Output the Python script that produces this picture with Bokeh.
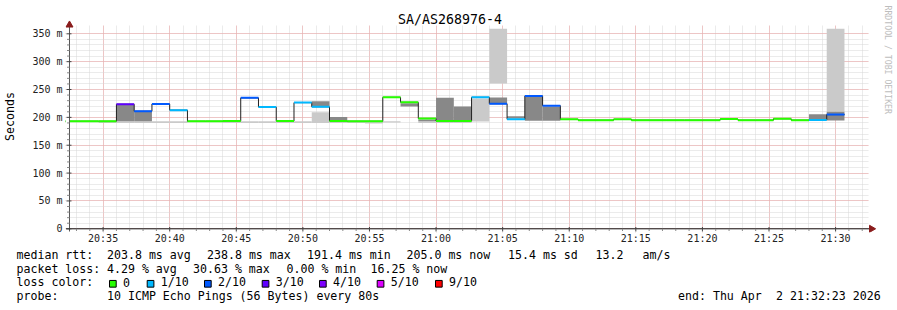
import math
from bokeh.plotting import figure
from bokeh.models import Range1d, FixedTicker, ColumnDataSource
from bokeh.layouts import column, row
from bokeh.embed import file_html
from bokeh.resources import INLINE
from bokeh.core.properties import value

MONO = "DejaVu Sans Mono"

# ---------------- data ----------------
title_text = "SA/AS268976-4"
y_axis_label = "Seconds"
watermark = "RRDTOOL / TOBI OETIKER"

# x axis: minutes after 20:00
x_tick_minutes = [35, 40, 45, 50, 55, 60, 65, 70, 75, 80, 85, 90]
x_tick_labels = ["20:35", "20:40", "20:45", "20:50", "20:55", "21:00",
                 "21:05", "21:10", "21:15", "21:20", "21:25", "21:30"]
x_minor_minutes = list(range(33, 93))
y_tick_values = [0, 50, 100, 150, 200, 250, 300, 350]
y_tick_labels = ["0", "50 m", "100 m", "150 m", "200 m", "250 m", "300 m", "350 m"]
y_minor_values = list(range(0, 351, 10))

first_step_min = 32.0      # 20:32:00
probe_step_s = 80

# median rtt per 80 s step (ms)
median_ms = [193, 193, 193,
             223.5, 211, 224, 213,
             193, 193, 193.5,
             235, 218.5, 193.5,
             226.5, 219, 193.5,
             193, 193,
             236, 227, 198,
             193.5, 193.5,
             236, 224.5, 196.5,
             238.5, 221,
             196.5, 195, 195, 196.5, 195, 195, 195, 195, 195, 197, 195, 195, 197.5, 195,
             195.5, 205]
# lost pings out of 10 per step
loss_tenths = [0, 0, 0,
               3, 2, 2, 1,
               0, 0, 0,
               2, 1, 0,
               1, 1, 0,
               0, 0,
               0, 0, 0,
               0, 0,
               1, 2, 1,
               2, 2,
               0, 0, 0, 0, 0, 0, 0, 0, 0, 0, 0, 0, 0, 0,
               1, 2]
# smoke (spread of the pings): outer light band and inner dark band (ms)
smoke_light_lo = [None, None, 190, 190, 190, 190, 190, None, None, 190, 190, 190, 190, 190,
                  190, 190, 190, 189, 191, None, 190, 190, 190, 192.5, 261, None, None, None,
                  None, None, None, None, None, None, None, None, None, None, None, None, None, None,
                  None, 210]
smoke_light_hi = [None, None, 193, 193, 193, 193, 193, None, None, 193, 193, 193, 193, 193,
                  209, 193, 193, 193, 193, None, 193, 193.5, 193.5, 234, 359, None, None, None,
                  None, None, None, None, None, None, None, None, None, None, None, None, None, None,
                  None, 359]
smoke_dark_lo = [None, None, None, 193, 193, None, None, None, None, None, None, None, None, None,
                 220.5, 194, None, None, None, 219.5, 193, 193.5, 193.5, None, 226, 198.5, 194, 194,
                 None, None, None, None, None, None, None, None, None, None, None, None, None, None,
                 197, 194.5]
smoke_dark_hi = [None, None, None, 222, 209.5, None, None, None, None, None, None, None, None, None,
                 229, 200.5, None, None, None, 225.5, 196, 235, 219.5, None, 235.5, 202, 237, 219,
                 None, None, None, None, None, None, None, None, None, None, None, None, None, None,
                 205.5, 210]

loss_levels = [0, 1, 2, 3, 4, 5, 9]
loss_labels = ["0", "1/10", "2/10", "3/10", "4/10", "5/10", "9/10"]
loss_colors = ["#26ff00", "#00b8ff", "#0059ff", "#5e00ff", "#7e00ff", "#dd00ff", "#ff0000"]

rtt_avg, rtt_max, rtt_min, rtt_now, rtt_sd, rtt_amps = 203.8, 238.8, 191.4, 205.0, 15.4, 13.2
loss_avg, loss_max, loss_min, loss_now = 4.29, 30.63, 0.00, 16.25
probe_text = "10 ICMP Echo Pings (56 Bytes) every 80s"
end_date = "Thu Apr  2 21:32:23 2026"

# ---------------- layout / style ----------------
W, MAIN_H = 897, 246
BOTTOM_H = 310 - MAIN_H
FRAME_L, FRAME_B = 63, 232            # frame: px 63..897 x 0..232
AX_X, AX_Y = 67.0, 228.3             # pixel position of the drawn axes
SX = 13.35                            # px per minute
SY = 195.0 / 350.0                    # px per ms
x_lo = 32.476                         # left end of the plotting area (20:32:28)
x_hi = x_lo + (868 - AX_X) / SX       # right end of the plotting area


def xd(px):
    return x_lo + (px - AX_X) / SX


def yd(py):
    return (AX_Y - py) / SY


x_start, x_end = xd(FRAME_L), xd(W)
y_start, y_end = yd(FRAME_B), yd(0)

grid_minor = "#d6d6d6"
grid_major = "#efa0a0"
arrow_col = "#8a1c1c"
smoke_light_col = "#cacaca"
smoke_dark_col = "#888888"

step_min = probe_step_s / 60.0
n = len(median_ms)
starts = [first_step_min + i * step_min for i in range(n)]
ends = [s + step_min for s in starts]


def color_for(loss):
    c = loss_colors[0]
    for lv, col in zip(loss_levels, loss_colors):
        if loss >= lv:
            c = col
    return c


p = figure(width=W, height=MAIN_H, x_range=Range1d(x_start, x_end), y_range=Range1d(y_start, y_end),
           output_backend="svg", toolbar_location=None, title=None,
           min_border_left=FRAME_L, min_border_right=0, min_border_top=0,
           min_border_bottom=MAIN_H - FRAME_B,
           background_fill_color="white", border_fill_color="white")
p.outline_line_color = None

xt = FixedTicker(ticks=x_tick_minutes, minor_ticks=x_minor_minutes)
yt = FixedTicker(ticks=y_tick_values, minor_ticks=y_minor_values)
p.xaxis.ticker = xt
p.yaxis.ticker = yt
p.xgrid.ticker = xt
p.ygrid.ticker = yt
p.xaxis.major_label_overrides = {k: v for k, v in zip(x_tick_minutes, x_tick_labels)}
p.yaxis.major_label_overrides = {k: v for k, v in zip(y_tick_values, y_tick_labels)}

for g in (p.xgrid, p.ygrid):
    g.grid_line_color = grid_major
    g.grid_line_dash = "1 1"
    g.grid_line_width = 1
    g.minor_grid_line_color = grid_minor
    g.minor_grid_line_dash = "1 1"
    g.minor_grid_line_width = 1

# the library axes supply the labels; their lines/ticks are drawn at the axis position below
p.axis.axis_line_color = None
p.axis.major_tick_line_color = None
p.axis.minor_tick_line_color = None
p.axis.major_tick_in = 0
p.axis.major_tick_out = 0
p.axis.minor_tick_in = 0
p.axis.minor_tick_out = 0
p.axis.major_label_text_font = MONO
p.axis.major_label_text_font_size = "10px"
p.axis.major_label_text_color = "#222222"
p.xaxis.major_label_standoff = 0
p.yaxis.major_label_standoff = FRAME_L - 60
p.yaxis.axis_label = y_axis_label
p.yaxis.axis_label_text_font = MONO
p.yaxis.axis_label_text_font_size = "11.6px"
p.yaxis.axis_label_text_font_style = "normal"
p.yaxis.axis_label_text_color = "#000000"
p.yaxis.axis_label_standoff = 12

# smoke
li = [i for i in range(n) if smoke_light_lo[i] is not None]
p.quad(left=[starts[i] for i in li], right=[ends[i] for i in li],
       bottom=[smoke_light_lo[i] for i in li], top=[smoke_light_hi[i] for i in li],
       fill_color=smoke_light_col, line_color=None)
di = [i for i in range(n) if smoke_dark_lo[i] is not None]
p.quad(left=[starts[i] for i in di], right=[ends[i] for i in di],
       bottom=[smoke_dark_lo[i] for i in di], top=[smoke_dark_hi[i] for i in di],
       fill_color=smoke_dark_col, line_color=None)

# median step line and loss-coloured median
p.step(x=starts + [ends[-1]], y=median_ms + [median_ms[-1]], mode="after",
       line_color="#202020", line_width=1)
src = ColumnDataSource(dict(x0=starts, x1=ends, y=median_ms,
                            c=[color_for(l) for l in loss_tenths]))
p.segment(x0="x0", y0="y", x1="x1", y1="y", line_color="c", line_width=2, source=src)

# white margins around the plotting area (hide grid outside it)
p.quad(left=[x_start, x_hi, x_lo, x_lo], right=[x_lo, x_end, x_hi, x_hi],
       bottom=[y_start, y_start, yd(25), y_start], top=[y_end, y_end, y_end, 0],
       fill_color="white", line_color=None)

# axis lines and ticks at the axis position
p.segment(x0=[x_lo], y0=[yd(231)], x1=[x_lo], y1=[yd(23)], line_color="#555555", line_width=1)
p.segment(x0=[xd(63.5)], y0=[0], x1=[xd(869)], y1=[0], line_color="#111111", line_width=1)
ymin_only = [v for v in y_minor_values if v not in y_tick_values]
p.segment(x0=[xd(64.5)] * len(ymin_only), y0=ymin_only, x1=[x_lo] * len(ymin_only), y1=ymin_only,
          line_color="#888888", line_width=1)
p.segment(x0=[xd(64)] * len(y_tick_values), y0=y_tick_values,
          x1=[xd(69)] * len(y_tick_values), y1=y_tick_values, line_color="#444444", line_width=1)
xmin_only = [m for m in x_minor_minutes if m not in x_tick_minutes]
p.segment(x0=xmin_only, y0=[0] * len(xmin_only), x1=xmin_only, y1=[yd(230.5)] * len(xmin_only),
          line_color="#888888", line_width=1)
p.segment(x0=x_tick_minutes, y0=[yd(226.5)] * len(x_tick_minutes),
          x1=x_tick_minutes, y1=[yd(231)] * len(x_tick_minutes), line_color="#444444", line_width=1)

# axis arrows
p.scatter(x=[x_lo], y=[yd(24.5)], marker="triangle", size=7,
          fill_color=arrow_col, line_color=arrow_col)
p.scatter(x=[xd(871)], y=[0], marker="triangle", size=7, angle=-math.pi / 2,
          fill_color=arrow_col, line_color=arrow_col)

# title and watermark
p.text(x=[xd(448.5)], y=[yd(19)], text=[title_text], text_font=value(MONO),
       text_font_size="13.3px", text_color="#000000", text_align="center", text_baseline="middle")
p.text(x=[xd(887)], y=[yd(5)], text=[watermark], angle=-math.pi / 2,
       text_font=value(MONO), text_font_size="8.2px", text_color="#bdbdbd",
       text_align="left", text_baseline="middle")

# bottom legend panel (coordinates are pixels from the panel's top-left)
bot = figure(width=W, height=BOTTOM_H, x_range=Range1d(0, W), y_range=Range1d(BOTTOM_H, 0),
             output_backend="svg", toolbar_location=None, title=None,
             x_axis_type=None, y_axis_type=None, min_border=0,
             background_fill_color="white", border_fill_color="white")
bot.outline_line_color = None
bot.grid.visible = False

line_y = [254.3 - MAIN_H, 268.0 - MAIN_H, 281.8 - MAIN_H, 295.6 - MAIN_H]
segs = [
    ("median rtt:", 16, 0),
    (f"{rtt_avg:.1f} ms avg", 106.5, 0),
    (f"{rtt_max:.1f} ms max", 206.5, 0),
    (f"{rtt_min:.1f} ms min", 306.5, 0),
    (f"{rtt_now:.1f} ms now", 406.0, 0),
    (f"{rtt_sd:.1f} ms sd", 507.5, 0),
    (f"{rtt_amps:.1f}", 595.0, 0),
    ("am/s", 642.0, 0),
    ("packet loss:", 16, 1),
    (f"{loss_avg:.2f} % avg", 106.5, 1),
    (f"{loss_max:.2f} % max", 192.5, 1),
    (f"{loss_min:.2f} % min", 286.0, 1),
    (f"{loss_now:.2f} % now", 370.0, 1),
    ("loss color:", 16, 2),
    ("probe:", 16, 3),
    (probe_text, 106.5, 3),
]
end_parts = ("end: " + end_date).split("  ")
end_x0 = 677.5
segs.append((end_parts[0], end_x0, 3))
segs.append((end_parts[1], end_x0 + (len(end_parts[0]) + 2) * 7.0, 3))

bot.text(x=[s[1] for s in segs], y=[line_y[s[2]] for s in segs], text=[s[0] for s in segs],
         text_font=value(MONO), text_font_size="11.6px", text_color="#000000",
         text_align="left", text_baseline="middle")

box_left = [109, 146.7, 204, 261.7, 319, 376.7, 435]
box_size = 6.7
box_cy = 283.3 - MAIN_H
bot.quad(left=box_left, right=[b + box_size for b in box_left],
         top=[box_cy - box_size / 2] * len(box_left), bottom=[box_cy + box_size / 2] * len(box_left),
         fill_color=loss_colors, line_color="#000000", line_width=1)
bot.text(x=[b + 13.5 for b in box_left], y=[line_y[2]] * len(box_left), text=loss_labels,
         text_font=value(MONO), text_font_size="11.6px", text_color="#000000",
         text_align="left", text_baseline="middle")

layout = column(row(p, spacing=0), bot, spacing=0)
open("out.html", "w").write(file_html(layout, INLINE))
